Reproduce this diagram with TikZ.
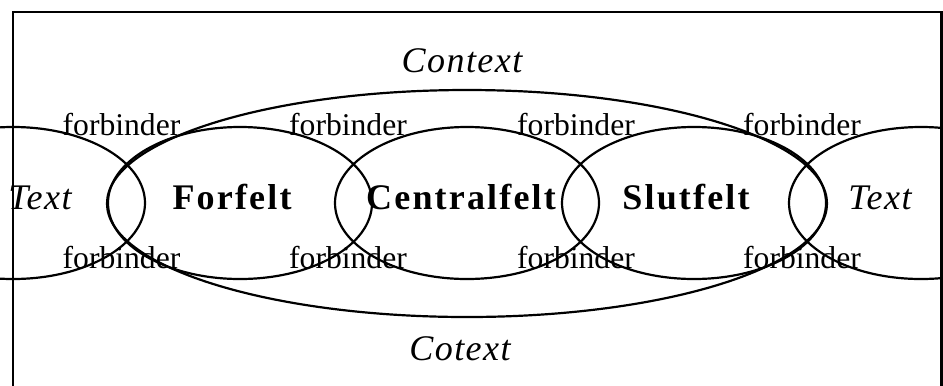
\documentclass[tikz,border=0pt]{standalone}
\usepackage{fontspec}
\setmainfont{Liberation Serif}
\usepackage{tikz}
\usetikzlibrary{calc}

\tikzset{felt/.style={anchor=base,font=\fontsize{20.5}{24}\selectfont\bfseries\addfontfeature{LetterSpace=6}},
kontekst/.style={anchor=base,font=\fontsize{20.5}{24}\selectfont\itshape\addfontfeature{LetterSpace=4}},
forb/.style={anchor=base,inner sep=0pt,font=\fontsize{18}{20}\selectfont}}

\begin{document}
\begin{tikzpicture}[line width=1.25pt]
\useasboundingbox (0,0) rectangle (18.86,-7.70);
\clip (0,0) rectangle (18.86,-7.70);
\draw[line width=1.7pt](0.26,-8)|-(18.83,-0.24)--(18.83,-8);
% stor ellipse
\coordinate (midt) at (9.34,-4.07);
\draw (midt) ellipse [x radius=7.2cm,y radius=2.27cm];
% felter
\foreach \n/\x in {tv/0.26,ff/4.80,cf/9.34,sf/13.88,th/18.42}{
\coordinate (\n) at (\x,-4.06);
\draw (\n) ellipse [x radius=2.64cm,y radius=1.52cm];
}
\node[kontekst] (tekstv) at (0.80,-4.18) {Text};
\node[felt] (forfelt) at (4.64,-4.18) {Forfelt};
\node[felt] (centralfelt) at (9.22,-4.18) {Centralfelt};
\node[felt] (slutfelt) at (13.72,-4.18) {Slutfelt};
\node[kontekst] (teksth) at (17.6,-4.18) {Text};
\node[kontekst] (context) at (9.24,-1.44) {Context};
\node[kontekst] (cotext) at (9.2,-7.2) {Cotext};
% forbindere
\foreach \i/\x in {1/2.43,2/6.96,3/11.52,4/16.04}{
\node[forb] (fo\i) at (\x,-2.70) {forbinder};
\node[forb] (fu\i) at (\x,-5.36) {forbinder};
}
\end{tikzpicture}
\end{document}
